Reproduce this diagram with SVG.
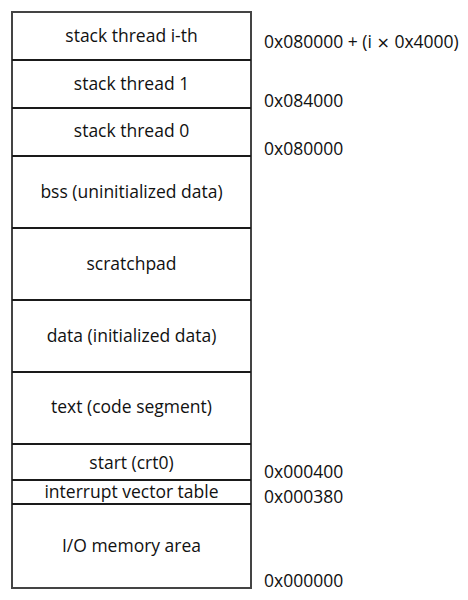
<svg xmlns="http://www.w3.org/2000/svg" width="468" height="600" viewBox="0 0 468 600">
<style>
.t{font-family:"Open Sans","Noto Sans","Liberation Sans",sans-serif;font-size:17.5px;fill:#111}
.c{text-anchor:middle}
.m{font-family:"DejaVu Sans",sans-serif;font-size:16px}
.div{stroke:#1a1a1a;stroke-width:1.8}
.box{fill:#fff;stroke:#444;stroke-width:2}
</style>
<rect width="468" height="600" fill="#fff"/>
<rect class="box" x="12" y="12" width="239" height="576"/>
<g id="connectors">
<line class="div" x1="12" y1="60" x2="251" y2="60"/>
<line class="div" x1="12" y1="108" x2="251" y2="108"/>
<line class="div" x1="12" y1="156" x2="251" y2="156"/>
<line class="div" x1="12" y1="228" x2="251" y2="228"/>
<line class="div" x1="12" y1="300" x2="251" y2="300"/>
<line class="div" x1="12" y1="372" x2="251" y2="372"/>
<line class="div" x1="12" y1="444" x2="251" y2="444"/>
<line class="div" x1="12" y1="480" x2="251" y2="480"/>
<line class="div" x1="12" y1="504" x2="251" y2="504"/>
</g>
<g id="stack-i"><text class="t c" x="131.5" y="42">stack thread i-th</text></g>
<g id="stack-1"><text class="t c" x="131.5" y="90">stack thread 1</text></g>
<g id="stack-0"><text class="t c" x="131.5" y="137">stack thread 0</text></g>
<g id="bss"><text class="t c" x="131.5" y="198">bss (uninitialized data)</text></g>
<g id="scratchpad"><text class="t c" x="131.5" y="270">scratchpad</text></g>
<g id="data"><text class="t c" x="131.5" y="342">data (initialized data)</text></g>
<g id="text"><text class="t c" x="131.5" y="413">text (code segment)</text></g>
<g id="start"><text class="t c" x="131.5" y="469">start (crt0)</text></g>
<g id="ivt"><text class="t c" x="131.5" y="498">interrupt vector table</text></g>
<g id="io"><text class="t c" x="131.5" y="552">I/O memory area</text></g>
<g id="addresses">
<text class="t" x="264" y="48">0x080000 + (i <tspan class="m">×</tspan> 0x4000)</text>
<text class="t" x="264" y="107">0x084000</text>
<text class="t" x="264" y="155">0x080000</text>
<text class="t" x="264" y="478">0x000400</text>
<text class="t" x="264" y="503">0x000380</text>
<text class="t" x="264" y="587">0x000000</text>
</g>
</svg>
